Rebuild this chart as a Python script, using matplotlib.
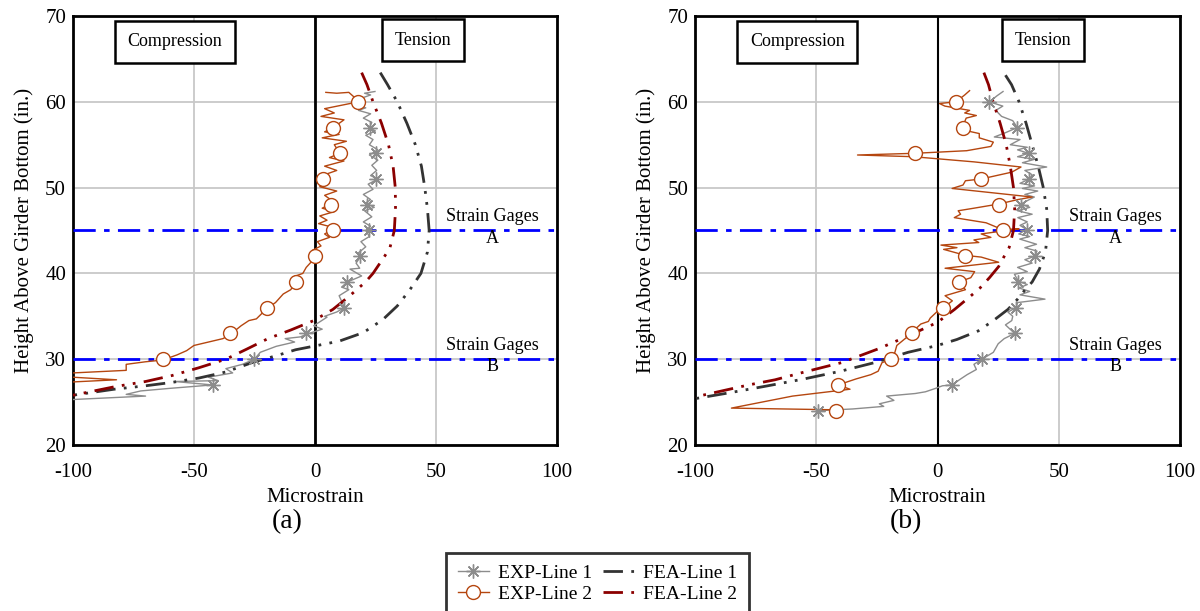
import matplotlib.pyplot as plt
from matplotlib.lines import Line2D

plt.rcParams['font.family'] = ['Liberation Serif', 'DejaVu Serif']
plt.rcParams['axes.unicode_minus'] = False

# ---------- panel (a) data ----------
# EXP-Line 1 (gray)
a_exp1_x = [24.8, 20.5, 23.0, 17.0, 15.8, 21.0, 18.0, 23.0, 20.0, 23.5, 22.5, 25.0, 21.0, 24.0, 22.5, 26.0,
            22.5, 26.0, 23.5, 25.5, 23.0, 26.0, 22.0, 24.0, 20.0, 23.0, 21.0, 24.5, 20.5, 23.5, 20.0, 23.0,
            21.0, 22.5, 19.0, 21.0, 18.0, 19.0, 17.0, 18.5, 14.5, 19.3, 13.4, 11.0, 14.0, 10.0, 12.2, 9.0,
            4.0, 5.0, -0.5, 3.0, -3.6, -6.0, -12.3, -8.4, -16.0, -22.6, -25.0, -30.0, -36.8, -34.0, -44.0,
            -40.0, -58.0, -42.3, -60.0, -72.0, -78.0, -70.0, -100.0]
a_exp1_y = [61.2, 61.0, 60.8, 60.2, 59.6, 59.3, 59.0, 58.6, 58.1, 57.6, 57.0, 56.6, 56.1, 55.6, 55.0, 54.4,
            53.8, 53.2, 52.6, 52.0, 51.4, 51.0, 50.4, 49.8, 49.2, 48.6, 48.2, 47.7, 47.3, 46.6, 46.0, 45.5,
            45.0, 44.3, 43.7, 43.1, 42.4, 42.0, 41.2, 40.6, 40.5, 39.7, 39.0, 38.4, 38.1, 37.4, 36.0, 35.5,
            35.0, 34.9, 33.9, 33.5, 32.9, 32.6, 32.4, 32.0, 31.5, 30.8, 30.0, 29.4, 28.9, 28.4, 27.9,
            27.5, 27.4, 27.0, 26.6, 26.3, 25.9, 25.7, 25.3]
a_exp1_mx = [22.9, 25.2, 25.3, 21.7, 22.2, 18.5, 13.4, 12.2, -3.6, -25.0, -42.3]
a_exp1_my = [57, 54, 51, 48, 45, 42, 39, 36, 33, 30, 27]

# EXP-Line 2 (orange)
a_exp2_x = [4.5, 9.0, 14.0, 16.0, 18.0, 11.0, 4.0, 8.0, 2.5, 12.0, 7.6, 4.0, 10.0, 3.0, 13.0, 8.0, 10.3, 6.0,
            12.0, 4.0, 9.0, 5.0, 3.4, 6.0, 2.0, 9.0, 4.0, 7.0, 6.5, 3.0, 8.0, 2.0, 5.0, 1.5, 7.0, 7.4, 4.0,
            6.0, 1.0, 2.5, -1.0, 0.0, -1.0, -3.6, -5.0, -9.0, -7.9, -10.0, -13.1, -16.3, -19.9, -24.2,
            -27.3, -30.5, -34.9, -38.0, -44.0, -50.0, -53.0, -57.0, -62.9, -70.0, -78.0, -78.0, -100.0,
            -115.0, -100.0, -82.0, -100.0, -115.0]
a_exp2_y = [61.1, 61.0, 61.1, 60.6, 60.0, 59.6, 59.2, 58.7, 58.3, 57.9, 57.0, 56.5, 56.2, 55.8, 55.4, 55.0,
            54.0, 53.5, 53.1, 52.5, 52.0, 51.6, 51.1, 50.5, 50.1, 49.6, 49.1, 48.5, 48.1, 47.6, 47.2, 46.7,
            46.2, 45.8, 45.4, 45.1, 44.6, 44.2, 43.7, 43.2, 42.7, 42.1, 41.5, 40.7, 40.0, 39.6, 39.0, 38.1,
            37.6, 36.6, 35.9, 34.7, 34.5, 33.9, 32.9, 32.4, 32.0, 31.6, 31.0, 30.5, 29.9, 29.7, 29.4, 28.7,
            28.4, 28.1, 27.9, 27.6, 27.35, 27.1]
a_exp2_mx = [18.0, 7.6, 10.3, 3.4, 6.5, 7.4, 0.0, -7.9, -19.9, -34.9, -62.9]
a_exp2_my = [60, 57, 54, 51, 48, 45, 42, 39, 36, 33, 30]

# FEA-Line 1 (dark gray)
a_fea1_x = [27, 30, 34, 38, 41.5, 44, 45.4, 46.5, 47.2, 46.5, 43.8, 39, 34, 28, 20, 10, 1, -8, -16, -25,
            -37, -48, -59, -70, -83, -100]
a_fea1_y = [63.4, 62, 60, 57.5, 55, 52.5, 50, 47.5, 45, 42.5, 40, 38, 36.2, 34.6, 33.1, 32.1, 31.6, 31.1,
            30.4, 29.7, 28.5, 27.8, 27.3, 26.9, 26.5, 25.8]
# FEA-Line 2 (dark red)
a_fea2_x = [19.3, 21.5, 24, 27.5, 30.4, 32.3, 33.2, 33.3, 32.8, 31, 28.8, 24, 20.9, 14, 7.4, -0.5, -10,
            -19.4, -28, -36.8, -48, -59, -70, -82.6, -100]
a_fea2_y = [63.4, 62, 60, 57.5, 55, 52.5, 50, 47.5, 45, 43, 42, 40, 39, 37.3, 35.8, 34.5, 33.4, 32.4,
            31.2, 30, 29, 28.1, 27.4, 26.8, 25.8]

# ---------- panel (b) data ----------
b_exp1_x = [27, 24.5, 21.4, 26.9, 24, 26.4, 31, 32.9, 28, 23.4, 34, 30, 37, 33, 37.5, 33, 40, 35, 45, 36,
            39, 37.9, 34, 40, 35, 41.3, 36, 39.9, 34.4, 38, 33, 39, 33.1, 37, 34, 36.7, 33.5, 38, 33.9,
            40.8, 36, 41, 40.2, 36, 39, 33, 37, 31.7, 33.3, 37, 33.6, 38, 34, 44.3, 33, 32.4, 29, 31,
            30.6, 28, 31.8, 27.5, 25, 23, 18.3, 15, 16, 12.2, 9, 6.1, 2, -0.8, -5, -9.2, -21, -18, -24,
            -22.2, -35, -49.2]
b_exp1_y = [61.2, 60.7, 60.0, 59.5, 59.0, 58.3, 57.8, 57.0, 56.4, 55.9, 55.6, 55.0, 54.7, 54.4, 54.0,
            53.6, 53.3, 52.9, 52.4, 52.0, 51.5, 51.0, 50.5, 50.2, 49.9, 49.6, 49.2, 48.9, 48.1, 47.7, 47.3,
            46.9, 46.5, 46.0, 45.6, 45.1, 44.6, 44.3, 44.0, 43.4, 43.0, 42.6, 42.0, 41.6, 41.2, 40.7, 40.2,
            39.9, 39.1, 38.7, 38.3, 37.9, 37.5, 37.0, 36.6, 36.0, 35.5, 35.0, 34.5, 34.0, 33.0, 32.4, 31.8,
            30.8, 30.0, 29.4, 28.8, 28.2, 27.6, 27.0, 26.9, 26.6, 26.2, 26.0, 25.7, 25.2, 24.8, 24.5, 24.2,
            24.0]
b_exp1_mx = [21.4, 32.9, 37.5, 37.9, 34.4, 36.7, 40.2, 33.3, 32.4, 31.8, 18.3, 6.1, -49.2]
b_exp1_my = [60, 57, 54, 51, 48, 45, 42, 39, 36, 33, 30, 27, 24]

b_exp2_x = [13.2, 11.2, 7.6, 0.8, 3, 13.2, 11.2, 16, 11.8, 10.2, 12.4, 17.2, 17.2, 23, 22, 12, -9.2, -33,
            -10, 15, 34.4, 30.6, 17.9, 11.5, 10.5, 6, 39, 33, 25.5, 15, 8.5, 9.5, 6.9, 20, 26.8, 33.6, 18,
            22, 15, 17, 1.4, 8, 2.5, 11.5, 18, 25.2, 3.1, 15.3, 13.7, 8.7, 11.5, 3.1, 6.1, 2.4, 0, -3, -3.8,
            -6.9, -9.2, -10.7, -13.8, -16.8, -17.6, -19.1, -22.9, -24.5, -27.5, -33.6, -41, -36.1, -59.8,
            -85, -41.7]
b_exp2_y = [61.3, 60.8, 60.0, 59.8, 59.5, 59.0, 58.7, 58.4, 58.1, 57.0, 56.6, 56.3, 55.8, 55.3, 54.8,
            54.3, 54.0, 53.8, 53.6, 53.0, 52.4, 51.8, 51.0, 50.8, 50.3, 49.9, 48.9, 48.6, 48.1, 47.6, 47.3,
            46.9, 46.5, 45.9, 45.1, 45.2, 44.6, 44.2, 43.9, 43.6, 43.3, 43.0, 42.8, 42.1, 41.9, 41.3, 40.6,
            40.2, 39.5, 39.0, 38.1, 37.4, 36.8, 36.0, 35.6, 34.8, 34.4, 34.1, 33.5, 33.0, 32.3, 31.6, 30.8,
            30.0, 29.6, 28.6, 28.2, 27.7, 27.0, 26.5, 25.7, 24.3, 24.1]
b_exp2_mx = [7.6, 10.4, -9.2, 17.9, 25.5, 26.8, 11.5, 8.7, 2.4, -10.7, -19.1, -41.0, -41.7]
b_exp2_my = [60, 57, 54, 51, 48, 45, 42, 39, 36, 33, 30, 27, 24]

b_fea1_x = [28, 30.5, 33.6, 36.5, 39, 41.5, 43.6, 45, 45.4, 44.5, 42, 39, 36.7, 33, 29, 23, 16.8, 8, 0,
            -12.2, -26, -40, -55, -70, -85.5, -100]
b_fea1_y = [63.1, 62, 60, 57.5, 55, 52.5, 50, 47.5, 45, 42.5, 40.5, 39, 38.3, 37, 35.8, 34.5, 33.3, 32.3,
            31.6, 30.8, 29.6, 28.6, 27.7, 26.9, 26.1, 25.4]
b_fea2_x = [19.1, 21, 22.9, 25.8, 28.3, 30, 31.3, 31.8, 31.3, 29.5, 27.5, 25.2, 21.4, 17.5, 13.8, 7, 0,
            -12.2, -24.5, -39.6, -55, -67, -77.9, -100]
b_fea2_y = [63.4, 62, 60, 57.5, 55, 52.5, 50, 47.5, 45, 43, 42, 40.8, 39.5, 38.3, 37.4, 35.8, 34.3, 32.7,
            31.2, 29.6, 28.5, 27.6, 27, 25.6]

gage_y = [45, 30]
gage_labels = ['A', 'B']

c_exp1 = '#8c8c8c'
c_exp2 = '#b5460f'
c_fea1 = '#333333'
c_fea2 = '#8b0000'
fea_dash = (7, 3, 1, 3, 1, 3)

fig = plt.figure(figsize=(12, 6.11), dpi=100)
ax1 = fig.add_axes([0.0608, 0.2717, 0.4033, 0.7021])
ax2 = fig.add_axes([0.5792, 0.2717, 0.4042, 0.7021])

panels = [
    (ax1, a_exp1_x, a_exp1_y, a_exp1_mx, a_exp1_my, a_exp2_x, a_exp2_y, a_exp2_mx, a_exp2_my,
     a_fea1_x, a_fea1_y, a_fea2_x, a_fea2_y, 2.0, 44.5),
    (ax2, b_exp1_x, b_exp1_y, b_exp1_mx, b_exp1_my, b_exp2_x, b_exp2_y, b_exp2_mx, b_exp2_my,
     b_fea1_x, b_fea1_y, b_fea2_x, b_fea2_y, 1.5, 43.3),
]

for (ax, e1x, e1y, m1x, m1y, e2x, e2y, m2x, m2y, f1x, f1y, f2x, f2y, zlw, tens_x) in panels:
    ax.set_xlim(-100, 100)
    ax.set_ylim(20, 70)
    ax.set_xticks([-100, -50, 0, 50, 100])
    ax.set_yticks([20, 30, 40, 50, 60, 70])
    ax.grid(True, color='#c8c8c8', linewidth=1.3)
    ax.set_axisbelow(True)
    ax.tick_params(length=0, labelsize=15, pad=5)
    ax.tick_params(axis='x', pad=13)
    for s in ax.spines.values():
        s.set_linewidth(2)
        s.set_color('black')
    ax.axvline(0, color='black', linewidth=zlw, zorder=2)

    for gy, gl in zip(gage_y, gage_labels):
        ax.axhline(gy, color='#0000ff', linewidth=2, dashes=(8, 3, 2, 3), zorder=3)
        ax.text(73.5, gy + 1.6, 'Strain Gages', fontsize=13, ha='center', va='center')
        ax.text(73.5, gy - 0.9, gl, fontsize=13, ha='center', va='center')

    ax.plot(e1x, e1y, color=c_exp1, linewidth=1, zorder=4)
    ax.plot(m1x, m1y, linestyle='none', marker=(8, 2, 0), markersize=10, mew=1, color=c_exp1, zorder=5)
    ax.plot(e2x, e2y, color=c_exp2, linewidth=1, zorder=4)
    ax.plot(m2x, m2y, linestyle='none', marker='o', markersize=10, mew=1, mfc='white', mec=c_exp2, zorder=5)
    ax.plot(f1x, f1y, color=c_fea1, linewidth=2, dashes=fea_dash, zorder=4)
    ax.plot(f2x, f2y, color=c_fea2, linewidth=2, dashes=fea_dash, zorder=4)

    bbox = dict(boxstyle='square,pad=0.7', facecolor='white', edgecolor='black', linewidth=1.8)
    ax.text(-57.8, 67.0, 'Compression', fontsize=13, ha='center', va='center', bbox=bbox, zorder=6)
    ax.text(tens_x, 67.2, 'Tension', fontsize=13, ha='center', va='center', bbox=bbox, zorder=6)

    ax.set_xlabel('Microstrain', fontsize=15, labelpad=4)
    ax.set_ylabel('Height Above Girder Bottom (in.)', fontsize=15, labelpad=8)

fig.text(287 / 1200, 1 - 522 / 611, '(a)', fontsize=20, ha='center', va='center')
fig.text(906 / 1200, 1 - 522 / 611, '(b)', fontsize=20, ha='center', va='center')

handles = [
    Line2D([], [], color=c_exp1, linewidth=1, marker=(8, 2, 0), markersize=10, mew=1),
    Line2D([], [], color=c_exp2, linewidth=1, marker='o', markersize=10, mew=1, mfc='white', mec=c_exp2),
    Line2D([], [], color=c_fea1, linewidth=2, dashes=fea_dash),
    Line2D([], [], color=c_fea2, linewidth=2, dashes=fea_dash),
]
labels = ['EXP-Line 1', 'EXP-Line 2', 'FEA-Line 1', 'FEA-Line 2']
leg = fig.legend(handles, labels, ncol=2, loc='upper center', bbox_to_anchor=(0.498, 0.111),
                 fontsize=14, frameon=True, fancybox=False, edgecolor='black', handlelength=1.6,
                 columnspacing=0.6, handletextpad=0.45, borderpad=0.6, labelspacing=0.15)
leg.get_frame().set_linewidth(2)

fig.savefig('out.png', dpi=100)
